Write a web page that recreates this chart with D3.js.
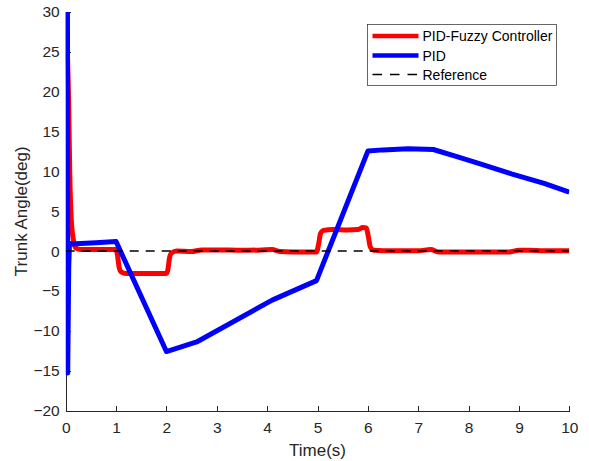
<!DOCTYPE html>
<html>
<head>
<meta charset="utf-8">
<script src="https://cdn.jsdelivr.net/npm/d3@7"></script>
<style>
  html, body { margin: 0; padding: 0; background: #fff; }
  svg { display: block; font-family: "Liberation Sans", Arial, sans-serif; }
</style>
</head>
<body>
<svg id="chart" width="589" height="461"></svg>
<script>
// Trunk angle response: PID-Fuzzy controller vs plain PID
const fuzzyTime  = [0, 0.06, 0.08, 0.11, 0.15, 0.2, 0.3, 0.6, 1.0, 1.03, 1.06, 1.1, 1.2, 1.6, 2.0, 2.03, 2.06, 2.1, 2.2, 2.5, 2.7, 3.0, 3.5, 3.9, 4.1, 4.25, 4.5, 4.98, 5.02, 5.06, 5.12, 5.3, 5.6, 5.8, 5.9, 5.97, 6.01, 6.05, 6.12, 6.3, 7.0, 7.25, 7.4, 8.0, 8.8, 9.0, 9.2, 9.5, 10];
const fuzzyAngle = [30, 18, 10, 4, 1.5, 0.4, 0.2, 0.2, 0.2, -0.6, -2.0, -2.6, -2.8, -2.8, -2.8, -2.3, -0.9, -0.25, 0.0, -0.05, 0.15, 0.15, 0.1, 0.15, 0.2, -0.05, -0.1, -0.1, 0.8, 2.2, 2.6, 2.7, 2.65, 2.7, 2.95, 2.9, 1.8, 0.5, 0.1, 0.05, 0.05, 0.2, -0.1, -0.1, -0.1, 0.1, 0.1, 0.05, 0.05];

const pidTime  = [0, 0.035, 0.04, 0.06, 0.075, 0.1, 0.3, 0.6, 1.0, 2.0, 2.6, 4.1, 4.98, 6.0, 6.3, 6.8, 7.3, 7.8, 8.2, 8.85, 9.5, 10];
const pidAngle = [31, 30, -15.3, -2.0, 1.0, 0.9, 0.95, 1.05, 1.2, -12.6, -11.4, -6.15, -3.7, 12.55, 12.7, 12.85, 12.75, 11.8, 11.0, 9.7, 8.5, 7.4];

const refTime  = [0, 10];
const refAngle = [0, 0];

const xTicks = [0, 1, 2, 3, 4, 5, 6, 7, 8, 9, 10];
const yTicks = [-20, -15, -10, -5, 0, 5, 10, 15, 20, 25, 30];

const legendLabels = ["PID-Fuzzy Controller", "PID", "Reference"];
const seriesColors = ["#ff0000", "#0000ff", "#000000"];

const axisColor = "#262626";
const svg = d3.select("#chart");

const x = d3.scaleLinear().domain([0, 10]).range([65.7, 569.3]);
const y = d3.scaleLinear().domain([-20, 30]).range([410.5, 12]);

// clip lines to the axes box
svg.append("defs").append("clipPath").attr("id", "plotClip")
  .append("rect")
  .attr("x", x(0)).attr("y", y(30))
  .attr("width", x(10) - x(0)).attr("height", y(-20) - y(30));

// axes (left and bottom only, ticks pointing inward)
const xAxis = d3.axisBottom(x).tickValues(xTicks).tickFormat(d3.format("d"))
  .tickSizeInner(-5).tickSizeOuter(0).tickPadding(11);
const yAxis = d3.axisLeft(y).tickValues(yTicks).tickFormat(d3.format("d"))
  .tickSizeInner(-5).tickSizeOuter(0).tickPadding(6);

const gx = svg.append("g").attr("transform", `translate(0,${y(-20)})`).call(xAxis);
const gy = svg.append("g").attr("transform", `translate(${x(0)},0)`).call(yAxis);

[gx, gy].forEach(g => {
  g.selectAll("path, line").attr("stroke", axisColor).attr("stroke-width", 1)
    .attr("shape-rendering", "crispEdges");
  g.selectAll("text").attr("fill", axisColor).style("font-size", "15.5px")
    .style("font-family", "'Liberation Sans', Arial, sans-serif");
});

// axis titles
svg.append("text")
  .attr("x", (x(0) + x(10)) / 2).attr("y", 456)
  .attr("text-anchor", "middle").attr("fill", axisColor)
  .style("font-size", "17px").text("Time(s)");

svg.append("text")
  .attr("transform", `translate(27,${(y(30) + y(-20)) / 2}) rotate(-90)`)
  .attr("text-anchor", "middle").attr("fill", axisColor)
  .style("font-size", "17px").text("Trunk Angle(deg)");

// data lines
const plot = svg.append("g").attr("clip-path", "url(#plotClip)");

const smoothLine = d3.line().x(d => x(d[0])).y(d => y(d[1])).curve(d3.curveMonotoneX);
const straightLine = d3.line().x(d => x(d[0])).y(d => y(d[1]));

plot.append("path")
  .datum(d3.zip(fuzzyTime, fuzzyAngle))
  .attr("d", smoothLine)
  .attr("fill", "none").attr("stroke", seriesColors[0])
  .attr("stroke-width", 5).attr("stroke-linejoin", "round");

plot.append("path")
  .datum(d3.zip(pidTime, pidAngle))
  .attr("d", straightLine)
  .attr("fill", "none").attr("stroke", seriesColors[1])
  .attr("stroke-width", 5).attr("stroke-linejoin", "round");

plot.append("path")
  .datum(d3.zip(refTime, refAngle))
  .attr("d", straightLine)
  .attr("fill", "none").attr("stroke", seriesColors[2])
  .attr("stroke-width", 1.5).attr("stroke-dasharray", "9,7");

// legend
const legend = svg.append("g");
legend.append("rect")
  .attr("x", 367.5).attr("y", 24.5).attr("width", 189).attr("height", 61)
  .attr("fill", "#fff").attr("stroke", axisColor).attr("stroke-width", 0.7);

const rowY = [36, 55.5, 74.5];
legendLabels.forEach((label, i) => {
  const line = legend.append("line")
    .attr("x1", 372.5).attr("x2", 418.5)
    .attr("y1", rowY[i]).attr("y2", rowY[i])
    .attr("stroke", seriesColors[i])
    .attr("stroke-width", i < 2 ? 4.5 : 1.5);
  if (i === 2) line.attr("stroke-dasharray", "9.5,8");
  legend.append("text")
    .attr("x", 422.5).attr("y", rowY[i] + 5)
    .attr("fill", "#000").style("font-size", "14px")
    .text(label);
});
</script>
</body>
</html>
